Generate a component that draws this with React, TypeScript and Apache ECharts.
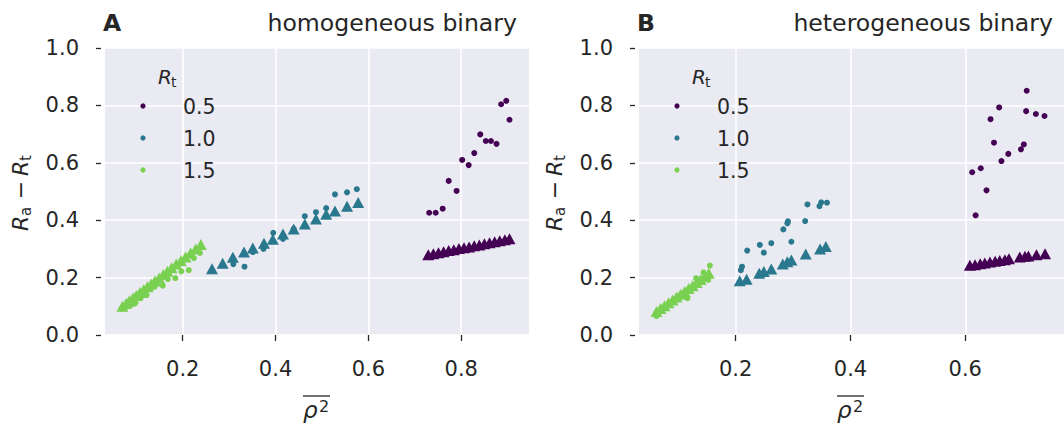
import React, { useEffect, useRef } from "react";
import * as echarts from "echarts";

// ---- levels, colours, ticks ----
const RT_LEVELS = ["0.5", "1.0", "1.5"];
const COLORS = ["#440154", "#2a788e", "#7ad151"];
const xTicksA = [0.2, 0.4, 0.6, 0.8];
const xTicksB = [0.2, 0.4, 0.6];
const yTicks = [0, 0.2, 0.4, 0.6, 0.8, 1.0];

// ---- Panel A: homogeneous binary ----
const homDots05 = [[0.731,0.426],[0.745,0.426],[0.760,0.440],[0.773,0.537],[0.790,0.502],[0.802,0.610],[0.816,0.592],[0.828,0.634],[0.841,0.699],[0.853,0.676],[0.864,0.676],[0.876,0.666],[0.886,0.804],[0.897,0.816],[0.904,0.750]];
const homTri05 = [[0.729,0.280],[0.740,0.283],[0.751,0.287],[0.762,0.290],[0.773,0.294],[0.784,0.297],[0.795,0.301],[0.806,0.304],[0.817,0.307],[0.828,0.311],[0.839,0.314],[0.850,0.318],[0.861,0.321],[0.872,0.325],[0.883,0.328],[0.894,0.332],[0.904,0.335]];
const homDots10 = [[0.309,0.247],[0.333,0.238],[0.351,0.289],[0.374,0.300],[0.395,0.356],[0.416,0.335],[0.439,0.370],[0.463,0.414],[0.487,0.428],[0.509,0.442],[0.528,0.490],[0.554,0.497],[0.575,0.508]];
const homTri10 = [[0.263,0.231],[0.286,0.250],[0.308,0.271],[0.332,0.289],[0.351,0.303],[0.375,0.320],[0.394,0.334],[0.416,0.352],[0.439,0.369],[0.463,0.387],[0.487,0.404],[0.509,0.421],[0.528,0.432],[0.554,0.449],[0.578,0.462]];
const homDots15 = [[0.069,0.092],[0.080,0.100],[0.090,0.106],[0.097,0.110],[0.109,0.128],[0.122,0.139],[0.131,0.160],[0.140,0.172],[0.147,0.188],[0.157,0.172],[0.168,0.195],[0.184,0.198],[0.197,0.222],[0.213,0.226],[0.224,0.268],[0.237,0.286]];
const homTri15 = [[0.070,0.100],[0.078,0.110],[0.085,0.119],[0.093,0.129],[0.100,0.138],[0.108,0.148],[0.116,0.158],[0.124,0.168],[0.132,0.178],[0.140,0.188],[0.149,0.199],[0.158,0.211],[0.167,0.222],[0.176,0.234],[0.186,0.247],[0.196,0.259],[0.206,0.272],[0.217,0.286],[0.228,0.300],[0.239,0.315]];

// ---- Panel B: heterogeneous binary ----
const hetDots05 = [[0.618,0.417],[0.612,0.567],[0.627,0.581],[0.637,0.504],[0.644,0.752],[0.650,0.670],[0.659,0.793],[0.663,0.606],[0.675,0.631],[0.697,0.647],[0.702,0.664],[0.706,0.780],[0.707,0.851],[0.723,0.770],[0.738,0.763]];
const hetTri05 = [[0.608,0.243],[0.617,0.245],[0.626,0.248],[0.634,0.251],[0.643,0.254],[0.652,0.257],[0.660,0.260],[0.669,0.262],[0.676,0.266],[0.695,0.272],[0.704,0.274],[0.710,0.275],[0.724,0.280],[0.739,0.283]];
const hetDots10 = [[0.209,0.226],[0.211,0.238],[0.220,0.294],[0.242,0.314],[0.249,0.287],[0.262,0.320],[0.283,0.368],[0.290,0.389],[0.291,0.396],[0.297,0.325],[0.321,0.397],[0.325,0.455],[0.346,0.449],[0.349,0.462],[0.359,0.461]];
const hetTri10 = [[0.207,0.189],[0.219,0.194],[0.241,0.215],[0.249,0.221],[0.262,0.230],[0.282,0.247],[0.290,0.255],[0.297,0.261],[0.322,0.282],[0.347,0.300],[0.357,0.308]];
const hetDots15 = [[0.062,0.066],[0.074,0.093],[0.085,0.105],[0.100,0.125],[0.116,0.128],[0.125,0.165],[0.131,0.198],[0.144,0.218],[0.152,0.192],[0.155,0.242]];
const hetTri15 = [[0.062,0.082],[0.069,0.092],[0.076,0.102],[0.083,0.112],[0.090,0.122],[0.097,0.132],[0.104,0.142],[0.111,0.152],[0.118,0.162],[0.125,0.172],[0.132,0.183],[0.139,0.193],[0.146,0.204],[0.153,0.215]];

const FONT = "DejaVu Sans";
const TXT = "#262626";
const BG = "#eaeaf2";

function txt(x: number, y: number, text: string, opts: any = {}) {
  return {
    type: "text",
    x,
    y,
    z: 100,
    silent: true,
    style: {
      text,
      fill: TXT,
      fontFamily: FONT,
      fontSize: opts.size ?? 21,
      fontStyle: opts.italic ? "italic" : "normal",
      fontWeight: opts.bold ? "bold" : "normal",
      align: opts.align ?? "left",
      verticalAlign: "middle",
    },
  };
}

function decor(dx: number, letter: string, title: string, titleRight: number, xlabCenter: number) {
  const els: any[] = [];
  // panel letter + title
  els.push(txt(103 + dx, 23, letter, { size: 23.5, bold: true }));
  els.push(txt(titleRight, 23, title, { size: 23.6, align: "right" }));
  // y axis label  R_a − R_t (rotated)
  els.push({
    type: "group",
    x: 20 + dx,
    y: 190,
    z: 100,
    rotation: Math.PI / 2,
    children: [
      txt(-41, 0, "R", { size: 22, italic: true }),
      txt(-26, 6, "a", { size: 15 }),
      txt(0, 0, "\u2212", { size: 22, align: "center" }),
      txt(14, 0, "R", { size: 22, italic: true }),
      txt(29, 6, "t", { size: 15 }),
    ],
  });
  // x axis label: overline rho^2
  const lx = xlabCenter - 14;
  els.push({
    type: "line",
    z: 100,
    silent: true,
    shape: { x1: lx, y1: 396, x2: lx + 27, y2: 396 },
    style: { stroke: TXT, lineWidth: 1.3 },
  });
  els.push(txt(lx, 410, "\u03c1", { size: 23, italic: true }));
  els.push(txt(lx + 16, 406, "2", { size: 16 }));
  // legend
  els.push(txt(158 + dx, 77, "R", { size: 20, italic: true }));
  els.push(txt(171 + dx, 82, "t", { size: 14 }));
  RT_LEVELS.forEach((lv, i) => {
    const y = 106 + i * 32;
    els.push({
      type: "circle",
      z: 100,
      silent: true,
      shape: { cx: 143 + dx, cy: y, r: 2.6 },
      style: { fill: COLORS[i] },
    });
    els.push(txt(183 + dx, y + 0.5, lv, { size: 20.5 }));
  });
  return els;
}

function xAxisCfg(gridIndex: number, min: number, max: number, ticks: number[]) {
  return {
    type: "value",
    gridIndex,
    min,
    max,
    offset: 3,
    axisLine: { show: false },
    axisTick: { show: true, length: 6, customValues: ticks, lineStyle: { color: TXT, width: 1.3 } },
    axisLabel: {
      customValues: ticks,
      margin: 20,
      fontSize: 21,
      fontFamily: FONT,
      color: TXT,
      formatter: (v: number) => v.toFixed(1),
    },
    splitLine: { show: true, lineStyle: { color: "#ffffff", width: 1.6 } },
  };
}

function yAxisCfg(gridIndex: number) {
  return {
    type: "value",
    gridIndex,
    min: yTicks[0],
    max: yTicks[yTicks.length - 1],
    interval: 0.2,
    offset: 4,
    axisLine: { show: false },
    axisTick: { show: true, length: 5, lineStyle: { color: TXT, width: 1.3 } },
    axisLabel: {
      margin: 22,
      fontSize: 21,
      fontFamily: FONT,
      color: TXT,
      formatter: (v: number) => v.toFixed(1),
    },
    splitLine: { show: true, lineStyle: { color: "#ffffff", width: 1.6 } },
  };
}

function dotSeries(idx: number, data: number[][], c: number) {
  return {
    type: "scatter",
    xAxisIndex: idx,
    yAxisIndex: idx,
    data,
    symbol: "circle",
    symbolSize: 6,
    itemStyle: { color: COLORS[c], opacity: 1 },
    name: RT_LEVELS[c],
  };
}
function triSeries(idx: number, data: number[][], c: number) {
  return {
    type: "scatter",
    xAxisIndex: idx,
    yAxisIndex: idx,
    data,
    symbol: "triangle",
    symbolSize: [12, 11],
    itemStyle: { color: COLORS[c], opacity: 1 },
    name: RT_LEVELS[c],
  };
}

export default function App() {
  const ref = useRef<HTMLDivElement>(null);
  useEffect(() => {
    if (!ref.current) return;
    const chart = echarts.init(ref.current, null, { renderer: "svg" });
    chart.setOption({
      animation: false,
      backgroundColor: "#ffffff",
      textStyle: { fontFamily: FONT },
      grid: [
        { left: 105, top: 48, width: 424, height: 287, show: true, backgroundColor: BG, borderWidth: 0 },
        { left: 639, top: 48, width: 425, height: 287, show: true, backgroundColor: BG, borderWidth: 0 },
      ],
      xAxis: [xAxisCfg(0, 0.0325, 0.946, xTicksA), xAxisCfg(1, 0.0315, 0.772, xTicksB)],
      yAxis: [yAxisCfg(0), yAxisCfg(1)],
      series: [
        dotSeries(0, homDots05, 0),
        dotSeries(0, homDots10, 1),
        dotSeries(0, homDots15, 2),
        triSeries(0, homTri05, 0),
        triSeries(0, homTri10, 1),
        triSeries(0, homTri15, 2),
        dotSeries(1, hetDots05, 0),
        dotSeries(1, hetDots10, 1),
        dotSeries(1, hetDots15, 2),
        triSeries(1, hetTri05, 0),
        triSeries(1, hetTri10, 1),
        triSeries(1, hetTri15, 2),
      ],
      graphic: [
        ...decor(0, "A", "homogeneous binary", 517, 317),
        ...decor(534, "B", "heterogeneous binary", 1053, 851),
      ],
    });
    return () => chart.dispose();
  }, []);
  return (
    <div
      ref={ref}
      style={{ position: "absolute", left: 0, top: 0, width: 1064, height: 428 }}
    />
  );
}
